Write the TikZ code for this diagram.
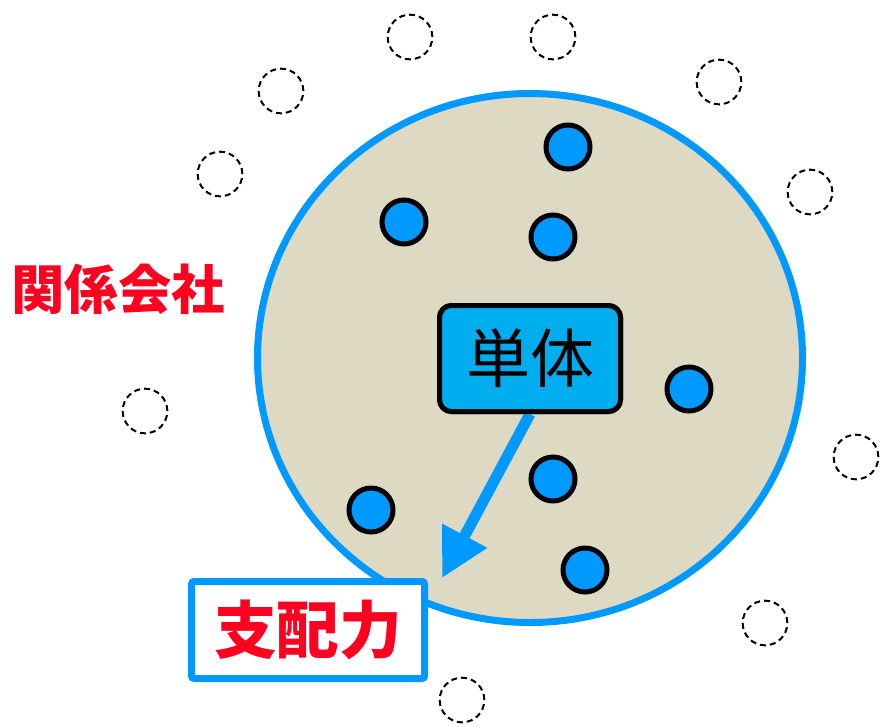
\documentclass[tikz,border=0pt]{standalone}
\usepackage{fontspec}
\newfontfamily\cjk{Noto Sans CJK JP}
\usetikzlibrary{shapes.geometric,arrows.meta}
\definecolor{bluebrd}{RGB}{0,153,255}
\definecolor{tanfill}{RGB}{221,217,195}
\definecolor{boxfill}{RGB}{0,174,239}
\definecolor{redtxt}{RGB}{255,0,32}
\tikzset{
  ghost/.style={circle,draw=black,line width=1.5pt,dash pattern=on 4.5pt off 3pt,minimum size=33.5pt,inner sep=0pt},
  member/.style={circle,draw=black,fill=bluebrd,line width=3.75pt,minimum size=33pt,inner sep=0pt},
  group/.style={ellipse,draw=bluebrd,fill=tanfill,line width=5.25pt,minimum width=408.75pt,minimum height=396.75pt,inner sep=0pt},
  solobox/.style={rectangle,rounded corners=9pt,draw=black,fill=boxfill,line width=3.75pt,minimum width=135.75pt,minimum height=79.5pt,inner sep=0pt,font=\cjk\fontsize{48}{48}\selectfont},
  ctrlbox/.style={rectangle,rounded corners=2pt,draw=bluebrd,fill=white,line width=5.25pt,minimum width=174.75pt,minimum height=72.75pt,inner sep=0pt,text=redtxt,font=\cjk\bfseries\fontsize{47}{47}\selectfont},
  labeltxt/.style={text=redtxt,font=\cjk\bfseries\fontsize{40}{40}\selectfont,inner sep=0pt},
  bigarrow/.style={draw=bluebrd,line width=8.25pt,-{Triangle[length=36pt,width=36pt]}}
}
\begin{document}
\begin{tikzpicture}[x=0.75pt,y=-0.75pt]
\useasboundingbox (0,0) rectangle (881,726);
% dashed outside circles
\node[ghost] (g1) at (410,37) {};
\node[ghost] (g2) at (553,37) {};
\node[ghost] (g3) at (281,91) {};
\node[ghost] (g4) at (719,82) {};
\node[ghost] (g5) at (220,174) {};
\node[ghost] (g6) at (810,192) {};
\node[ghost] (g7) at (145,411) {};
\node[ghost] (g8) at (856,457) {};
\node[ghost] (g9) at (765,623) {};
\node[ghost] (g10) at (462,700) {};
% big group
\node[group] (grp) at (530,358) {};
% members
\node[member] (m1) at (568,147) {};
\node[member] (m2) at (404,222) {};
\node[member] (m3) at (553,237) {};
\node[member] (m4) at (689,389) {};
\node[member] (m5) at (553,479) {};
\node[member] (m6) at (371,510) {};
\node[member] (m7) at (585,570) {};
% arrow
\node[solobox] (solo) at (530,358.5) {単体};
\coordinate (tip) at (442,578);
\draw[bigarrow] (solo.south) -- (tip);
\node[solobox] at (530,358.5) {単体};
% control box
\node[ctrlbox] (ctrl) at (308,630) {支配力};
% label
\node[labeltxt] (lbl) at (118,289) {関係会社};
\end{tikzpicture}
\end{document}
